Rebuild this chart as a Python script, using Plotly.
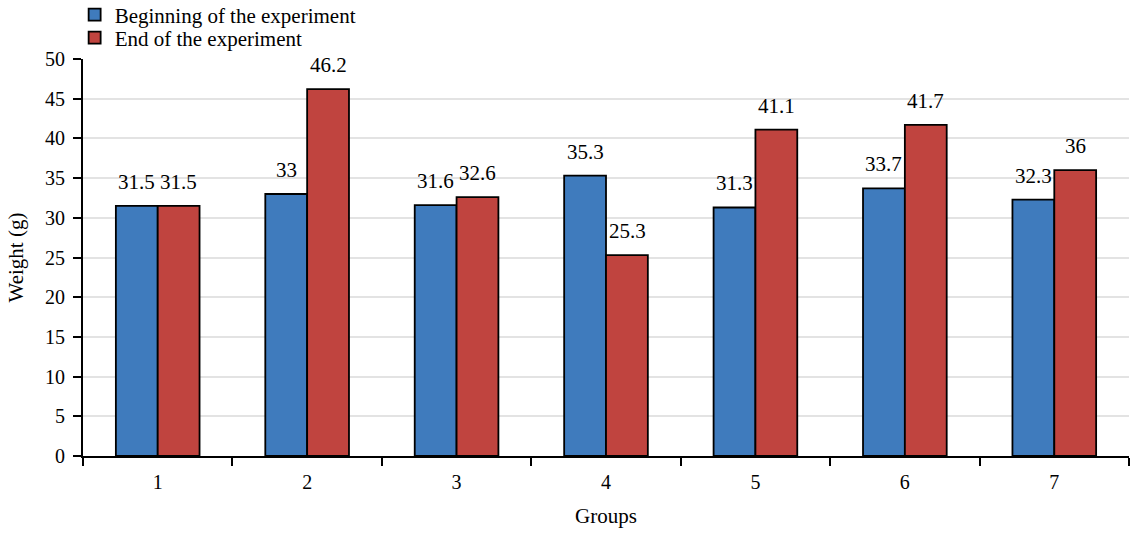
import plotly.graph_objects as go

groups = ["1", "2", "3", "4", "5", "6", "7"]
beginning = [31.5, 33, 31.6, 35.3, 31.3, 33.7, 32.3]
end = [31.5, 46.2, 32.6, 25.3, 41.1, 41.7, 36]
y_ticks = [0, 5, 10, 15, 20, 25, 30, 35, 40, 45, 50]

FONT = "Liberation Serif"
FS = 21
TFS = 20
BLUE = "#3f7bbd"
RED = "#c0443f"

fig = go.Figure()
fig.add_trace(go.Bar(x=groups, y=beginning, name="Beginning of the experiment", legend="legend3",
                     marker=dict(color=BLUE, line=dict(color="black", width=1.8))))
fig.add_trace(go.Bar(x=groups, y=end, name="End of the experiment", legend="legend2",
                     marker=dict(color=RED, line=dict(color="black", width=1.8))))

annotations = []
for i, g in enumerate(groups):
    for vals, shift in ((beginning, -21), (end, 21)):
        annotations.append(dict(x=i, y=vals[i], text=str(vals[i]), showarrow=False,
                                xref="x", yref="y", xshift=shift, yshift=10,
                                yanchor="bottom", font=dict(family=FONT, size=FS, color="black")))

leg_common = dict(xref="paper", yref="paper", xanchor="left", yanchor="middle",
                  font=dict(family=FONT, size=FS), bgcolor="rgba(0,0,0,0)")

fig.update_layout(
    width=1136, height=533,
    margin=dict(l=83, r=7, t=59, b=77, autoexpand=False),
    plot_bgcolor="white", paper_bgcolor="white",
    barmode="group", bargap=0.44, bargroupgap=0,
    font=dict(family=FONT, size=FS, color="black"),
    legend3=dict(x=-0.008, y=1.1108, **leg_common),
    legend2=dict(x=-0.008, y=1.0529, **leg_common),
    annotations=annotations,
    xaxis=dict(type="category", title=dict(text="Groups", font=dict(size=FS), standoff=16),
               showline=True, linecolor="black", linewidth=2, ticklabelstandoff=7,
               ticks="outside", tickson="boundaries", ticklen=8, tickwidth=1.5, tickcolor="black",
               showgrid=False, tickfont=dict(family=FONT, size=TFS)),
    yaxis=dict(title=dict(text="Weight (g)", font=dict(size=FS), standoff=16),
               range=[0, 50], tickvals=y_ticks, showline=True, linecolor="black", linewidth=2,
               ticks="outside", ticklen=8, tickwidth=2, tickcolor="black", ticklabelstandoff=4,
               tickfont=dict(family=FONT, size=TFS),
               showgrid=True, gridcolor="#e3e3e3", gridwidth=1.5, zeroline=False),
)

fig.write_html("out.html", config={"displayModeBar": False},
               post_script="document.body.style.margin='0px';")
